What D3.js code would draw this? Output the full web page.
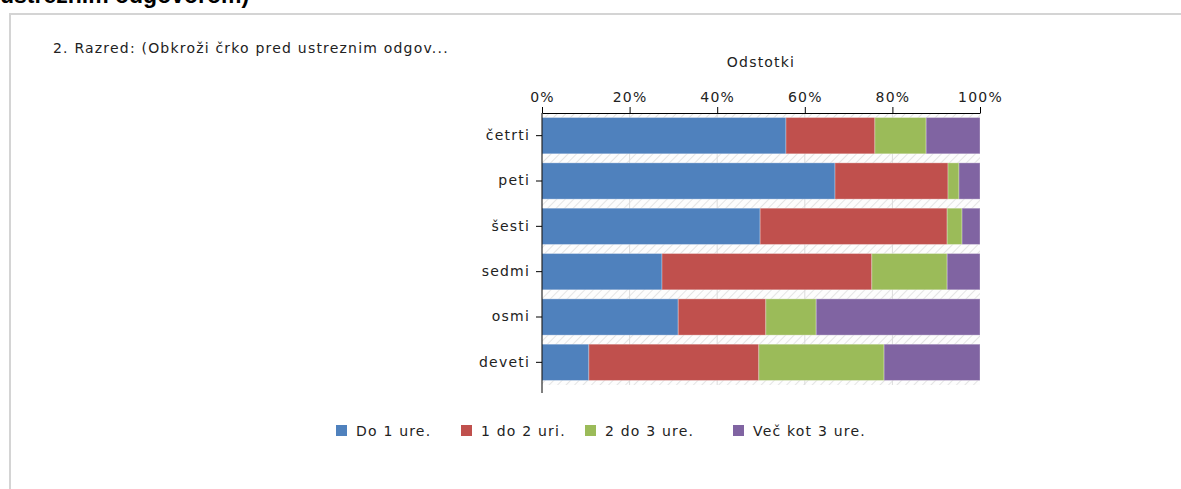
<!DOCTYPE html>
<html>
<head>
<meta charset="utf-8">
<script src="https://cdn.jsdelivr.net/npm/d3@7"></script>
<style>
  body { margin: 0; background: #fff; }
  svg { display: block; font-family: "DejaVu Sans", sans-serif; }
  .lbl { font-size: 14px; letter-spacing: 1.2px; fill: #222; }
</style>
</head>
<body>
<div id="chart"></div>
<script>
// data (percent of answers per grade)
const categories = ["četrti", "peti", "šesti", "sedmi", "osmi", "deveti"];
const seriesNames = ["Do 1 ure.", "1 do 2 uri.", "2 do 3 ure.", "Več kot 3 ure."];
const doEne = [55.7, 66.9, 49.8, 27.4, 31.1, 10.7];
const enaDoDve = [20.3, 25.8, 42.7, 47.9, 20.0, 38.8];
const dveDoTri = [11.7, 2.5, 3.4, 17.2, 11.5, 28.6];
const vecKotTri = [12.3, 4.8, 4.1, 7.5, 37.4, 21.9];
const xTicks = [0, 20, 40, 60, 80, 100];
const colors = ["#4f81bd", "#c0504d", "#9bbb59", "#8064a2"];

const W = 1181, H = 489;
const plot = { left: 542, right: 980, top: 113, bottom: 385 };

const svg = d3.select("#chart").append("svg")
  .attr("width", W)
  .attr("height", H);

//hatch pattern for the plot background
const defs = svg.append("defs");
const pat = defs.append("pattern")
  .attr("id", "hatch")
  .attr("patternUnits", "userSpaceOnUse")
  .attr("width", 6)
  .attr("height", 6)
  .attr("patternTransform", "rotate(45)");
pat.append("rect").attr("width", 6).attr("height", 6).attr("fill", "#fdfdfd");
pat.append("line")
  .attr("x1", 0).attr("y1", 0).attr("x2", 0).attr("y2", 6)
  .attr("stroke", "#e4e4e4").attr("stroke-width", 2);

//heading above the panel, cut off by the top edge as in the page
svg.append("text")
  .attr("x", 0)
  .attr("y", 3)
  .style("font-family", "'Liberation Sans', Arial, sans-serif")
  .style("font-size", "23px")
  .style("font-weight", "bold")
  .text("ustreznim odgovorom)");

//panel border
svg.append("path")
  .attr("d", `M10,${H} L10,14 L${W},14`)
  .attr("fill", "none")
  .attr("stroke", "#d4d4d4")
  .attr("stroke-width", 2);

svg.append("text")
  .attr("class", "lbl")
  .attr("x", 53)
  .attr("y", 53)
  .text("2. Razred: (Obkroži črko pred ustreznim odgov...");

//scales
const x = d3.scaleLinear().domain([0, 100]).range([plot.left, plot.right]);
const y = d3.scaleBand()
  .domain(categories)
  .range([plot.top, plot.bottom])
  .paddingInner(0.2)
  .paddingOuter(0.1);

//background + gridlines
svg.append("rect")
  .attr("x", plot.left)
  .attr("y", plot.top)
  .attr("width", plot.right - plot.left)
  .attr("height", plot.bottom - plot.top)
  .attr("fill", "url(#hatch)");

svg.selectAll(".grid")
  .data(xTicks.slice(1, -1))
  .join("line")
  .attr("class", "grid")
  .attr("x1", d => x(d)).attr("x2", d => x(d))
  .attr("y1", plot.top).attr("y2", plot.bottom)
  .attr("stroke", "#dcdcdc")
  .attr("stroke-width", 1);

//stack the series
const rows = categories.map((c, i) => ({
  cat: c, s0: doEne[i], s1: enaDoDve[i], s2: dveDoTri[i], s3: vecKotTri[i]
}));
const stacked = d3.stack().keys(["s0", "s1", "s2", "s3"])(rows);

svg.append("g")
  .selectAll("g")
  .data(stacked)
  .join("g")
  .attr("fill", (d, i) => colors[i])
  .selectAll("rect")
  .data(d => d)
  .join("rect")
  .attr("x", d => x(d[0]))
  .attr("y", d => y(d.data.cat))
  .attr("width", d => x(d[1]) - x(d[0]))
  .attr("height", y.bandwidth())
  .attr("stroke", "rgba(255,255,255,0.3)")
  .attr("stroke-width", 1);

//top axis
const xAxis = svg.append("g")
  .attr("transform", `translate(0,${plot.top})`)
  .call(d3.axisTop(x)
    .tickValues(xTicks)
    .tickFormat(d => d + "%")
    .tickSize(6)
    .tickSizeOuter(0)
    .tickPadding(5));
xAxis.select(".domain").attr("stroke", "#000");
xAxis.selectAll(".tick line").attr("stroke", "#000");
xAxis.selectAll(".tick text")
  .attr("class", "lbl")
  .attr("fill", null);

//left axis
const yAxis = svg.append("g")
  .attr("transform", `translate(${plot.left},0)`)
  .call(d3.axisLeft(y).tickSize(6).tickSizeOuter(0).tickPadding(6));
yAxis.select(".domain")
  .attr("d", `M0,${plot.top}V${plot.bottom + 8}`)
  .attr("stroke", "#000");
yAxis.selectAll(".tick line").attr("stroke", "#000");
yAxis.selectAll(".tick text")
  .attr("class", "lbl")
  .attr("fill", null);
yAxis.attr("font-size", null).attr("font-family", null);
xAxis.attr("font-size", null).attr("font-family", null);

//axis title
svg.append("text")
  .attr("class", "lbl")
  .attr("x", (plot.left + plot.right) / 2)
  .attr("y", 67)
  .attr("text-anchor", "middle")
  .text("Odstotki");

//legend
const legendX = [336, 461, 585, 733];
const legend = svg.append("g")
  .selectAll("g")
  .data(seriesNames)
  .join("g")
  .attr("transform", (d, i) => `translate(${legendX[i]},425)`);
legend.append("rect")
  .attr("width", 11).attr("height", 11)
  .attr("fill", (d, i) => colors[i]);
legend.append("text")
  .attr("class", "lbl")
  .attr("x", 20)
  .attr("y", 11)
  .text(d => d);
</script>
</body>
</html>
